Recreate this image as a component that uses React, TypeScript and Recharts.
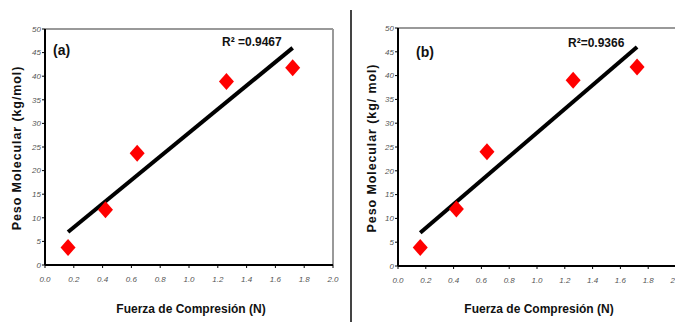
import React from 'react';
import { ScatterChart, Scatter, XAxis, YAxis, ReferenceLine } from 'recharts';

const xTicks = [0, 0.2, 0.4, 0.6, 0.8, 1.0, 1.2, 1.4, 1.6, 1.8, 2.0];
const yTicks = [0, 5, 10, 15, 20, 25, 30, 35, 40, 45, 50];

const pointsA = [
  { x: 0.16, y: 3.7 },
  { x: 0.42, y: 11.7 },
  { x: 0.64, y: 23.7 },
  { x: 1.26, y: 38.9 },
  { x: 1.72, y: 41.8 },
];
const trendA = [
  { x: 0.16, y: 7.0 },
  { x: 1.72, y: 46.0 },
];
const pointsB = [
  { x: 0.16, y: 3.9 },
  { x: 0.42, y: 12.0 },
  { x: 0.64, y: 24.0 },
  { x: 1.26, y: 39.0 },
  { x: 1.72, y: 41.8 },
];
const trendB = [
  { x: 0.16, y: 7.0 },
  { x: 1.72, y: 46.0 },
];

const FONT = '"Liberation Sans", Arial, sans-serif';

const Diamond = (props: any) => {
  const { cx, cy } = props;
  if (cx == null || cy == null) return null;
  const w = 7.5;
  const h = 8.5;
  return (
    <polygon
      points={`${cx},${cy - h} ${cx + w},${cy} ${cx},${cy + h} ${cx - w},${cy}`}
      fill="#ff0000"
    />
  );
};

const NoShape = () => null;

const tickStyle = { fontSize: 8, fontStyle: 'italic', fill: '#555', fontFamily: FONT };

type PanelProps = {
  points: { x: number; y: number }[];
  trend: { x: number; y: number }[];
  width: number;
  margin: { top: number; right: number; bottom: number; left: number };
  yAxisWidth: number;
};

const Panel = ({ points, trend, width, margin, yAxisWidth }: PanelProps) => (
  <ScatterChart width={width} height={322} margin={margin}>
    <XAxis
      type="number"
      dataKey="x"
      domain={[0, 2]}
      ticks={xTicks}
      tickFormatter={(v: number) => v.toFixed(1)}
      tick={tickStyle}
      tickSize={3}
      tickMargin={8}
      axisLine={{ stroke: '#000', strokeWidth: 2 }}
      tickLine={{ stroke: '#000', strokeWidth: 1 }}
      height={20}
      interval={0}
      allowDataOverflow
    />
    <YAxis
      type="number"
      dataKey="y"
      domain={[0, 50]}
      ticks={yTicks}
      tick={tickStyle}
      tickSize={3}
      tickMargin={1}
      axisLine={{ stroke: '#000', strokeWidth: 2 }}
      tickLine={{ stroke: '#000', strokeWidth: 1 }}
      width={yAxisWidth}
      interval={0}
    />
    <ReferenceLine y={50} stroke="#999" strokeWidth={2} ifOverflow="extendDomain" />
    <ReferenceLine x={2} stroke="#999" strokeWidth={2} />
    <Scatter
      data={trend}
      line={{ stroke: '#000', strokeWidth: 4 }}
      shape={NoShape}
      isAnimationActive={false}
    />
    <Scatter data={points} shape={Diamond} isAnimationActive={false} />
  </ScatterChart>
);

export default function App() {
  return (
    <div
      style={{
        position: 'absolute',
        left: 0,
        top: 0,
        width: 675,
        height: 322,
        overflow: 'hidden',
        background: '#fff',
        fontFamily: FONT,
      }}
    >
      {/* Panel (a) */}
      <div style={{ position: 'absolute', left: 0, top: 0 }}>
        <Panel
          points={pointsA}
          trend={trendA}
          width={340}
          margin={{ top: 29, right: 7, bottom: 37, left: 0 }}
          yAxisWidth={45}
        />
      </div>
      {/* Panel (b) */}
      <div style={{ position: 'absolute', left: 340, top: 0 }}>
        <Panel
          points={pointsB}
          trend={trendB}
          width={345}
          margin={{ top: 28, right: 9, bottom: 36, left: 13 }}
          yAxisWidth={45}
        />
      </div>
      {/* divider */}
      <div
        style={{
          position: 'absolute',
          left: 350,
          top: 10,
          width: 2,
          height: 312,
          background: '#444',
        }}
      />
      <svg
        width={675}
        height={322}
        style={{ position: 'absolute', left: 0, top: 0, pointerEvents: 'none' }}
      >
        <g fontFamily={FONT} fill="#111">
          <text x={53} y={55} fontSize={14} fontWeight="bold">(a)</text>
          <text x={222} y={46} fontSize={12} fontWeight="bold">R² =0.9467</text>
          <text x={416} y={57} fontSize={14} fontWeight="bold">(b)</text>
          <text x={568} y={47} fontSize={12} fontWeight="bold">R²=0.9366</text>
          <text
            x={18}
            y={148}
            fontSize={12.5}
            fontWeight="bold"
            letterSpacing={0.9}
            textAnchor="middle"
            dominantBaseline="middle"
            transform="rotate(-90 18 148)"
          >
            Peso Molecular (kg/mol)
          </text>
          <text
            x={373}
            y={148}
            fontSize={12.5}
            fontWeight="bold"
            letterSpacing={0.9}
            textAnchor="middle"
            dominantBaseline="middle"
            transform="rotate(-90 373 148)"
          >
            Peso Molecular (kg/ mol)
          </text>
          <text x={191} y={313} fontSize={12} fontWeight="bold" textAnchor="middle">
            Fuerza de Compresión (N)
          </text>
          <text x={539} y={313} fontSize={12} fontWeight="bold" textAnchor="middle">
            Fuerza de Compresión (N)
          </text>
        </g>
      </svg>
    </div>
  );
}
